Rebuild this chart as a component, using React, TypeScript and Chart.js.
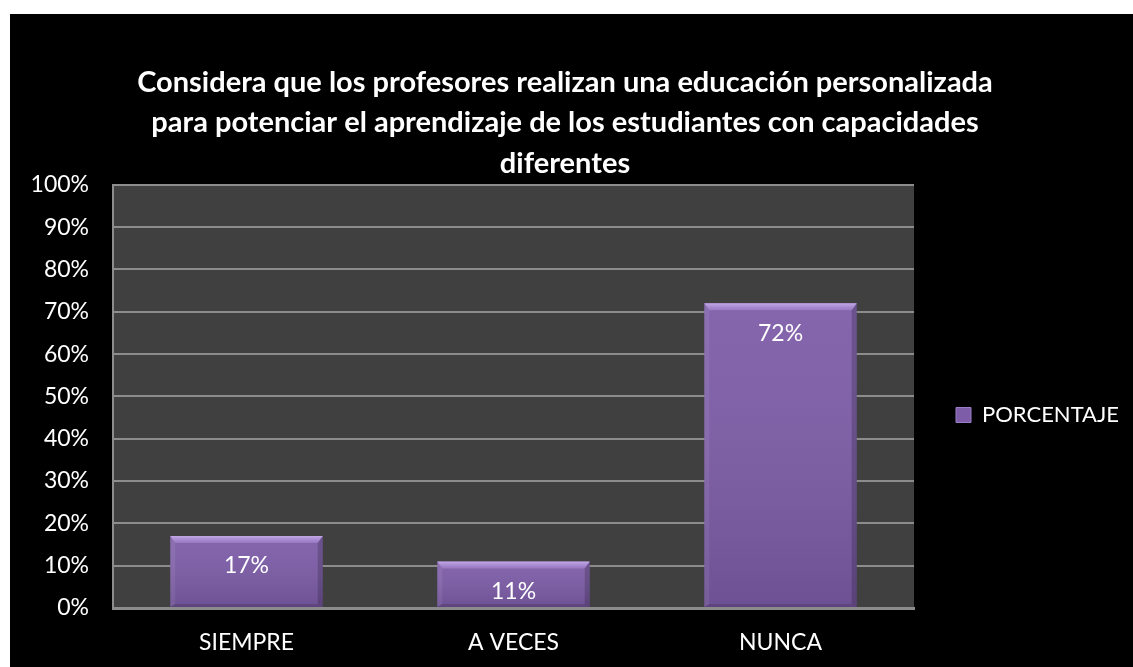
import React, { useEffect, useRef } from 'react';
import { Chart, registerables } from 'chart.js';

Chart.register(...registerables);

const categories = ['SIEMPRE', 'A VECES', 'NUNCA'];
const porcentaje = [0.17, 0.11, 0.72];
const seriesName = 'PORCENTAJE';
const titleLines = [
  'Considera que los profesores realizan una educación personalizada',
  'para potenciar el aprendizaje de los estudiantes con capacidades',
  'diferentes',
];
const yMin = 0;
const yMax = 1;
const yStep = 0.1;

const FONT = 'Lato';

const plotBgPlugin = {
  id: 'plotBg',
  beforeDraw(chart: any) {
    const { ctx, chartArea, width, height } = chart;
    ctx.save();
    ctx.fillStyle = '#000000';
    ctx.fillRect(0, 0, width, height);
    ctx.fillStyle = '#404040';
    ctx.fillRect(chartArea.left, chartArea.top, chartArea.right - chartArea.left, chartArea.bottom - chartArea.top);
    ctx.restore();
  },
};

const bevelPlugin = {
  id: 'bevel',
  afterDatasetsDraw(chart: any) {
    const { ctx } = chart;
    const meta = chart.getDatasetMeta(0);
    ctx.save();
    meta.data.forEach((el: any) => {
      const l = el.x - el.width / 2;
      const r = el.x + el.width / 2;
      const t = el.y;
      const b = el.base;
      const h = b - t;
      const bv = Math.min(7, h / 3);
      const sv = 5;
      const g = ctx.createLinearGradient(0, t, 0, b);
      g.addColorStop(0, 'rgba(255,255,255,0.06)');
      g.addColorStop(1, 'rgba(0,0,0,0.12)');
      ctx.fillStyle = g;
      ctx.fillRect(l, t, r - l, h);
      const gt = ctx.createLinearGradient(0, t, 0, t + bv);
      gt.addColorStop(0, 'rgba(205,180,240,0.85)');
      gt.addColorStop(1, 'rgba(170,140,215,0.5)');
      ctx.fillStyle = gt;
      ctx.beginPath();
      ctx.moveTo(l, t);
      ctx.lineTo(r, t);
      ctx.lineTo(r - sv, t + bv);
      ctx.lineTo(l + sv, t + bv);
      ctx.closePath();
      ctx.fill();
      ctx.fillStyle = 'rgba(255,255,255,0.07)';
      ctx.beginPath();
      ctx.moveTo(l, t);
      ctx.lineTo(l + sv, t + bv);
      ctx.lineTo(l + sv, b - 3);
      ctx.lineTo(l, b);
      ctx.closePath();
      ctx.fill();
      ctx.fillStyle = 'rgba(0,0,0,0.18)';
      ctx.beginPath();
      ctx.moveTo(r, t);
      ctx.lineTo(r - sv, t + bv);
      ctx.lineTo(r - sv, b - 3);
      ctx.lineTo(r, b);
      ctx.closePath();
      ctx.fill();
      ctx.fillStyle = 'rgba(0,0,0,0.15)';
      ctx.beginPath();
      ctx.moveTo(l, b);
      ctx.lineTo(l + sv, b - 3);
      ctx.lineTo(r - sv, b - 3);
      ctx.lineTo(r, b);
      ctx.closePath();
      ctx.fill();
    });
    ctx.restore();
  },
};

const dataLabelPlugin = {
  id: 'dataLabels',
  afterDatasetsDraw(chart: any) {
    const { ctx } = chart;
    const meta = chart.getDatasetMeta(0);
    const values = chart.data.datasets[0].data as number[];
    ctx.save();
    ctx.fillStyle = '#ffffff';
    ctx.font = `23px ${FONT}`;
    ctx.textAlign = 'center';
    ctx.textBaseline = 'middle';
    meta.data.forEach((el: any, i: number) => {
      ctx.fillText(`${Math.round(values[i] * 100)}%`, el.x, el.y + 30);
    });
    ctx.restore();
  },
};

export default function App() {
  const ref = useRef<HTMLCanvasElement | null>(null);

  useEffect(() => {
    if (!ref.current) return;
    const chart = new Chart(ref.current, {
      type: 'bar',
      data: {
        labels: categories,
        datasets: [
          {
            label: seriesName,
            data: porcentaje,
            backgroundColor: '#7d5ca8',
            borderWidth: 0,
            categoryPercentage: 1,
            barPercentage: 0.571,
          },
        ],
      },
      options: {
        responsive: false,
        animation: false,
        devicePixelRatio: 1,
        layout: { padding: { left: -9, right: 4, top: 0, bottom: 0 } },
        plugins: {
          tooltip: { enabled: false },
          title: {
            display: true,
            text: titleLines,
            color: '#ffffff',
            font: { family: FONT, size: 29, weight: 'bold', lineHeight: 1.4 },
            padding: { top: 48, bottom: 1 },
          },
          legend: {
            position: 'right',
            title: {
              display: true,
              text: '',
              font: { family: FONT, size: 12, lineHeight: 1.25 },
              padding: { top: 134, bottom: 0 },
            },
            labels: {
              color: '#ffffff',
              font: { family: FONT, size: 22 },
              boxWidth: 15,
              boxHeight: 15,
              padding: 42,
              generateLabels: () => [
                {
                  text: seriesName,
                  fillStyle: '#7d5ca8',
                  strokeStyle: '#9a7cc8',
                  lineWidth: 1,
                  fontColor: '#ffffff',
                  datasetIndex: 0,
                  hidden: false,
                },
              ],
            },
          },
        },
        scales: {
          x: {
            grid: { display: false, drawTicks: false },
            border: { color: '#8c8c8c', width: 3 },
            ticks: { color: '#ffffff', font: { family: FONT, size: 23 }, padding: 21 },
            afterFit: (scale: any) => {
              scale.height = 59;
            },
          },
          y: {
            min: yMin,
            max: yMax,
            grid: { color: '#8c8c8c', lineWidth: 2, drawTicks: false },
            border: { color: '#8c8c8c', width: 2 },
            ticks: {
              stepSize: yStep,
              color: '#ffffff',
              font: { family: FONT, size: 23 },
              padding: 24,
              callback: (v: any) => `${Math.round(Number(v) * 100)}%`,
            },
            afterFit: (scale: any) => {
              scale.width = 112;
            },
          },
        },
      },
      plugins: [plotBgPlugin, bevelPlugin, dataLabelPlugin],
    });
    return () => chart.destroy();
  }, []);

  return (
    <div style={{ position: 'fixed', left: 0, top: 0, width: 1133, height: 667, background: '#ffffff', overflow: 'hidden' }}>
      <div style={{ position: 'absolute', left: 10, top: 14, width: 1123, height: 653, background: '#000000' }}>
        <canvas ref={ref} width={1123} height={653} style={{ display: 'block', width: 1123, height: 653 }} />
      </div>
    </div>
  );
}
